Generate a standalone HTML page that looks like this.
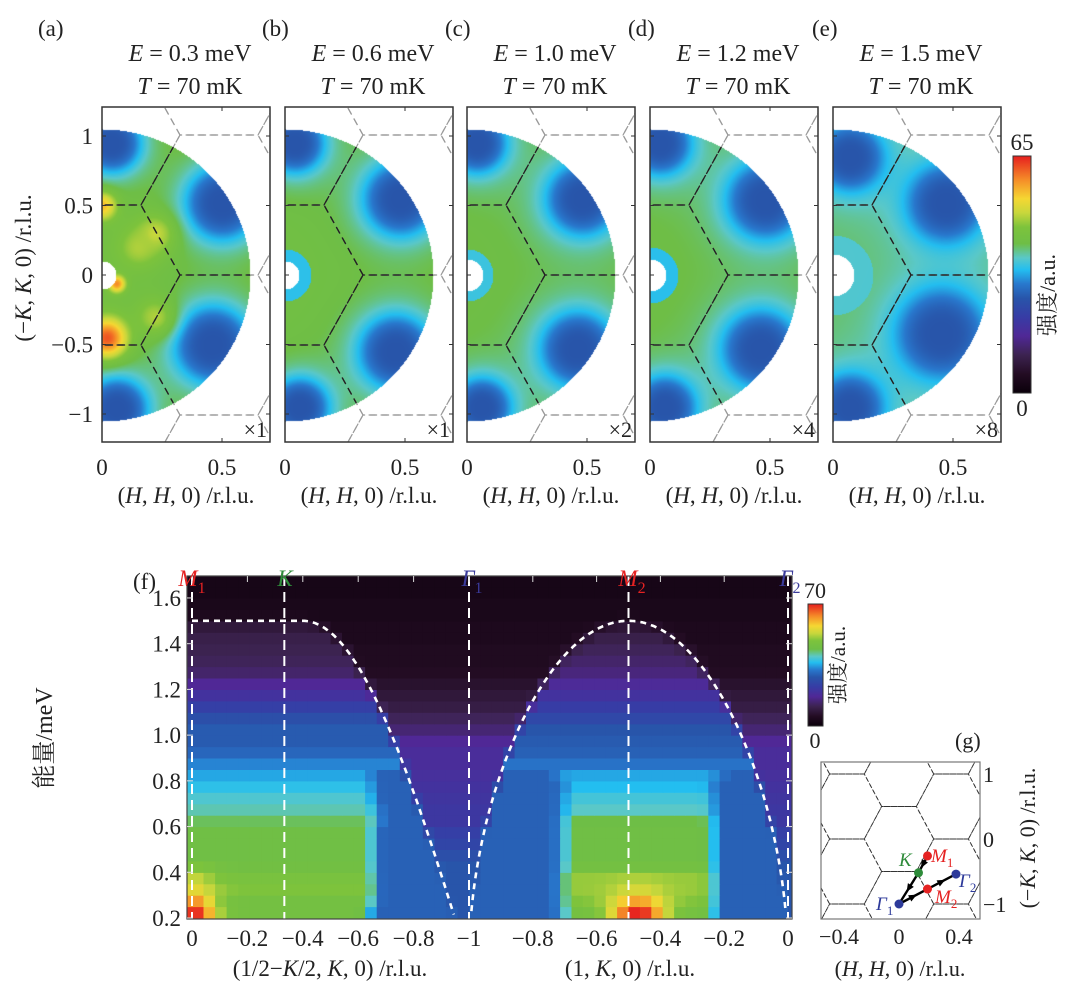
<!DOCTYPE html>
<html><head><meta charset="utf-8"><style>
html,body{margin:0;padding:0;background:#fff;}
#wrap{position:relative;width:1080px;height:991px;overflow:hidden;}
canvas,svg{position:absolute;left:0;top:0;}
text{font-family:"Liberation Serif","Noto Serif CJK SC",serif;fill:#222;}
</style></head><body>
<div id="wrap">
<canvas id="cv" width="1080" height="991"></canvas>
<svg id="sv" width="1080" height="991" xmlns="http://www.w3.org/2000/svg">
<defs>
<linearGradient id="cbar" x1="0" y1="1" x2="0" y2="0">
<stop offset="0" stop-color="#0a000a"/><stop offset="0.08" stop-color="#230c23"/><stop offset="0.16" stop-color="#3c2350"/><stop offset="0.24" stop-color="#502896"/><stop offset="0.32" stop-color="#373ca5"/><stop offset="0.4" stop-color="#2855aa"/><stop offset="0.46" stop-color="#2878cd"/><stop offset="0.52" stop-color="#23bef0"/><stop offset="0.57" stop-color="#5ac8c8"/><stop offset="0.63" stop-color="#6ebe46"/><stop offset="0.7" stop-color="#7dc33c"/><stop offset="0.76" stop-color="#c8d73c"/><stop offset="0.82" stop-color="#f5d732"/><stop offset="0.9" stop-color="#f58c28"/><stop offset="1" stop-color="#e61e1e"/>
</linearGradient>
</defs>
<g id="topg"></g>
<g id="fpanel"></g>
<g id="gpanel"></g>
</svg>
</div>
<script>
const cmStops=[[0,[10,0,10]],[0.08,[35,12,35]],[0.16,[60,35,80]],[0.24,[80,40,150]],[0.32,[55,60,165]],[0.4,[40,85,170]],[0.46,[40,120,205]],[0.52,[35,190,240]],[0.57,[90,200,200]],[0.63,[110,190,70]],[0.7,[125,195,60]],[0.76,[200,215,60]],[0.82,[245,215,50]],[0.9,[245,140,40]],[1,[230,30,30]]];
function cmap(v){v=Math.max(0,Math.min(1,v));for(let i=1;i<cmStops.length;i++){if(v<=cmStops[i][0]){const a=cmStops[i-1],b=cmStops[i];const t=(v-a[0])/(b[0]-a[0]);return [0,1,2].map(k=>Math.round(a[1][k]+(b[1][k]-a[1][k])*t));}}return cmStops[cmStops.length-1][1];}
const NS="http://www.w3.org/2000/svg";
function el(tag,attrs,parent){const e=document.createElementNS(NS,tag);for(const k in attrs)e.setAttribute(k,attrs[k]);parent.appendChild(e);return e;}

const panelLabels=["(a)","(b)","(c)","(d)","(e)"];
const panelEnergies=["0.3","0.6","1.0","1.2","1.5"];
const panelScales=["×1","×1","×2","×4","×8"];
const panelBase=[0.66,0.65,0.64,0.64,0.62];
const panelHole=[14,14,16,16,21];
const blobsA=[[0.5,0.52,38],[0.46,-0.5,40],[0.04,0.95,30],[0.06,-0.96,32]];
const blobsB=[[0.48,0.55,38],[0.46,-0.55,38],[0.04,0.95,30],[0.06,-0.95,30]];
const blobsC=[[0.48,0.55,37],[0.46,-0.53,38],[0.04,0.95,30],[0.06,-0.95,30]];
const blobsD=[[0.48,0.54,40],[0.46,-0.53,40],[0.04,0.95,32],[0.06,-0.95,32]];
const blobsE=[[0.47,0.52,40],[0.45,-0.42,46],[0.07,0.85,34],[0.07,-0.95,34]];
const hotA=[[0,0.5,0.85,10],[0.02,-0.45,0.95,14],[0.06,-0.06,0.9,6],[0.22,0.3,0.76,14],[0.22,-0.3,0.74,14],[0.15,0.2,0.74,14]];
const panelBlobs=[blobsA,blobsB,blobsC,blobsD,blobsE];
const panelHot=[hotA,[],[],[],[]];
const panelRing=[null,[14,26,0.5],[16,26,0.52],[16,28,0.5],[21,40,0.55]];

const lefts=[102,285,467,650,833];
const labelX=[38,262,445,628,812];
const PW=168,PT=107,PB=442,CY=275,XS=240,YS=139;
const cv=document.getElementById('cv');const ctx=cv.getContext('2d');
const imgData=ctx.createImageData(1080,991);
for(let p=0;p<5;p++){
  const L=lefts[p];const rx=p==4?155:148,ry=146;
  for(let py=PT;py<PB;py++)for(let px=L;px<L+PW;px++){
    const dx=px-L,dy=py-CY;
    if((dx/rx)**2+(dy/ry)**2>1)continue;
    const r=Math.hypot(dx,dy);if(r<panelHole[p])continue;
    let v=panelBase[p];
    const H=dx/XS,K=-dy/YS;
    for(const b of panelBlobs[p]){const d=Math.hypot((H-b[0])*XS,(K-b[1])*YS);const s=1/(1+Math.pow(d/b[2],4));v-=(v-0.40)*s;}
    for(const h of panelHot[p]){const d=Math.hypot((H-h[0])*XS,(K-h[1])*YS);const g=Math.exp(-d*d/(2*h[3]*h[3]));if(h[2]>v)v+=(h[2]-v)*g;}
    const rg=panelRing[p];if(rg&&r<rg[1]){v+=(rg[2]-v)*0.8;}
    const c=cmap(v);const i=(py*1080+px)*4;imgData.data[i]=c[0];imgData.data[i+1]=c[1];imgData.data[i+2]=c[2];imgData.data[i+3]=255;
  }
}
ctx.putImageData(imgData,0,0);

const topG=document.getElementById('topg');
const defsEl=document.querySelector('defs');
function honey(parent,cx,cy,a,h,x0,y0,x1,y1,stroke,dash,sw){
  for(let i=-4;i<=4;i++)for(let j=-6;j<=6;j++){
    const hx=cx+1.5*a*i,hy=cy+2*h*j+(Math.abs(i)%2?h:0);
    const v=[[hx+a,hy],[hx+a/2,hy-h],[hx-a/2,hy-h],[hx-a,hy],[hx-a/2,hy+h],[hx+a/2,hy+h]];
    if(hx<x0-2*a||hx>x1+2*a||hy<y0-2*h||hy>y1+2*h)continue;
    let d="M"+v.map(q=>q[0].toFixed(1)+","+q[1].toFixed(1)).join("L")+"Z";
    const e=el('path',{d:d,fill:'none',stroke:stroke,'stroke-dasharray':dash,'stroke-width':sw},parent);
    
    
  }
}
for(let p=0;p<5;p++){
  const L=lefts[p];const rx=p==4?155:148;
  const g=el('g',{},topG);
  
  
  const cp=el('clipPath',{id:'clip'+p},defsEl);el('rect',{x:L,y:PT,width:PW,height:PB-PT},cp);
  const cd=el('clipPath',{id:'disc'+p},defsEl);el('ellipse',{cx:L,cy:CY,rx:rx,ry:146},cd);
  const g1=el('g',{'clip-path':'url(#clip'+p+')'},g);
  honey(g1,L,CY,78,70,L,PT,L+PW,PB,'#999','7 5',1.2);
  const g2=el('g',{'clip-path':'url(#disc'+p+')'},g1);
  honey(g2,L,CY,78,70,L,PT,L+PW,PB,'#222','7 5',1.3);
  const fr=el('rect',{x:L,y:PT,width:PW,height:PB-PT,fill:'none',stroke:'#333','stroke-width':1.5},g);
  
  for(const k of [1,0.5,0,-0.5,-1]){const y=CY-k*YS;el('line',{x1:L,x2:L+4,y1:y,y2:y,stroke:'#333'},g);el('line',{x1:L+PW-4,x2:L+PW,y1:y,y2:y,stroke:'#333'},g);}
  el('line',{x1:L+120,x2:L+120,y1:PT,y2:PT+4,stroke:'#333'},g);el('line',{x1:L+120,x2:L+120,y1:PB-4,y2:PB,stroke:'#333'},g);
  let t=el('text',{x:labelX[p],y:36,'font-size':23},g);t.textContent=panelLabels[p];
  
  t=el('text',{x:L+88,y:61,'font-size':24,'text-anchor':'middle'},g);
  t.innerHTML='<tspan font-style="italic">E</tspan> = '+panelEnergies[p]+' meV';
  
  t=el('text',{x:L+88,y:94,'font-size':24,'text-anchor':'middle'},g);
  t.innerHTML='<tspan font-style="italic">T</tspan> = 70 mK';
  
  t=el('text',{x:L+PW-3,y:PB-5,'font-size':22,'text-anchor':'end'},g);t.textContent=panelScales[p];
  
  t=el('text',{x:L,y:475,'font-size':23,'text-anchor':'middle'},g);t.textContent='0';
  
  t=el('text',{x:L+120,y:475,'font-size':23,'text-anchor':'middle'},g);t.textContent='0.5';
  
  t=el('text',{x:L+84,y:503,'font-size':23,'text-anchor':'middle'},g);
  t.innerHTML='(<tspan font-style="italic">H</tspan>, <tspan font-style="italic">H</tspan>, 0) /r.l.u.';
  
}
const yTicksTop=["1","0.5","0","−0.5","−1"];const yTickValsTop=[1,0.5,0,-0.5,-1];
yTickValsTop.forEach((k,i)=>{const t=el('text',{x:93,y:CY-k*YS+8,'font-size':23,'text-anchor':'end'},topG);t.textContent=yTicksTop[i];
});
let yt=el('text',{x:0,y:0,'font-size':23,'text-anchor':'middle',transform:'translate(31,268) rotate(-90)'},topG);
yt.innerHTML='(−<tspan font-style="italic">K</tspan>, <tspan font-style="italic">K</tspan>, 0) /r.l.u.';

let cb=el('rect',{x:1013,y:156,width:18,height:237,fill:'url(#cbar)',stroke:'#333','stroke-width':1},topG);

let tt=el('text',{x:1022,y:150,'font-size':23,'text-anchor':'middle'},topG);tt.textContent='65';

tt=el('text',{x:1022,y:416,'font-size':23,'text-anchor':'middle'},topG);tt.textContent='0';

tt=el('text',{x:0,y:0,'font-size':22,'text-anchor':'middle',transform:'translate(1055,295) rotate(-90)'},topG);tt.textContent='强度/a.u.';


const energies=[0.225,0.275,0.325,0.375,0.425,0.475,0.525,0.575,0.625,0.675,0.725,0.775,0.825,0.875,0.925,0.975,1.025,1.075,1.125,1.175,1.225,1.275,1.325,1.375,1.425,1.475,1.525,1.575,1.625,1.675];
const plateauL=[0.66,0.66,0.70,0.68,0.65,0.64,0.64,0.64,0.62,0.58,0.56,0.53,0.50,0.47,0.43,0.41,0.41,0.38,0.33,0.28,0.24,0.19,0.17,0.16,0.15,0.14,0.11,0.09,0.07,0.05];
const widthL=[0.6,0.62,0.62,0.62,0.62,0.62,0.62,0.62,0.63,0.63,0.62,0.62,0.62,2,2,2,2,2,2,2,2,2,2,2,2,2,2,2,2,2];
const hotL=[1.0,0.9,0.8,0.76,0.7,0,0,0,0,0,0,0,0,0,0,0,0,0,0,0,0,0,0,0,0,0,0,0,0,0];
const plateauR=[0.66,0.70,0.72,0.72,0.66,0.64,0.64,0.64,0.63,0.57,0.55,0.52,0.50,0.45,0.42,0.41,0.40,0.36,0.32,0.28,0.25,0.21,0.19,0.17,0.15,0.13,0.10,0.08,0.07,0.05];
const widthR=[0.2,0.2,0.2,0.2,0.2,0.2,0.2,0.2,0.2,0.2,0.2,0.2,0.22,2,2,2,2,2,2,2,2,2,2,2,2,2,2,2,2,2];
const hotR=[1.0,0.88,0.78,0.74,0,0,0,0,0,0,0,0,0,0,0,0,0,0,0,0,0,0,0,0,0,0,0,0,0,0];
const insideBg=[0.42,0.42,0.42,0.42,0.42,0.42,0.42,0.42,0.42,0.42,0.42,0.42,0.42,0.42,0.42,0.41,0.40,0.38,0.33,0.28,0.24,0.19,0.17,0.16,0.15,0.14,0.11,0.09,0.07,0.05];
const outsideBg=[0.40,0.40,0.40,0.40,0.40,0.38,0.35,0.33,0.30,0.30,0.29,0.28,0.27,0.26,0.26,0.24,0.2,0.17,0.14,0.12,0.1,0.08,0.07,0.07,0.06,0.06,0.05,0.05,0.04,0.04];
const ticksLeft=[0,-0.2,-0.4,-0.6,-0.8,-1];const ticksLeftLbl=["0","−0.2","−0.4","−0.6","−0.8","−1"];
const ticksRight=[-0.8,-0.6,-0.4,-0.2,0];const ticksRightLbl=["−0.8","−0.6","−0.4","−0.2","0"];
const yTicksF=[0.2,0.4,0.6,0.8,1.0,1.2,1.4,1.6];const yTicksFLbl=["0.2","0.4","0.6","0.8","1.0","1.2","1.4","1.6"];
const fx0=187,fx1=792,fy0=576,fy1=919;
const xM1=192,xG1=469,xG2=788;
function xL(k){return xM1+(-k)*(xG1-xM1);}
function xR(k){return xG1+(k+1)*(xG2-xG1);}
function yE(e){return 918-(e-0.2)*228.6;}
function domeL(u){return u<0.4?1.5:1.5*Math.cos(Math.PI/2*(u-0.4)/0.6);}
function domeR(t){const s=Math.sin(Math.PI*Math.max(0,Math.min(1,t)));return 1.5*Math.sqrt(s);}
const fp=document.getElementById('fpanel');
const fc=el('clipPath',{id:'fclip'},defsEl);el('rect',{x:fx0,y:fy0,width:fx1-fx0,height:fy1-fy0},fc);
const cells=el('g',{'clip-path':'url(#fclip)'},fp);
function cellValue(r,dist,w,plat,hot,inDome){
  let v;
  if(dist<w)v=plat[r];else if(dist<w+0.07){const t=(dist-w)/0.07;v=plat[r]+(insideBg[r]-plat[r])*t;}else v=insideBg[r];
  if(hot[r]>0){const g=Math.exp(-dist*dist/(2*0.06*0.06));if(hot[r]>v)v+=(hot[r]-v)*g;}
  return v*inDome+outsideBg[r]*(1-inDome);
}
const NL=24,NR=28;
energies.forEach((E,r)=>{
  const yTop=yE(E+0.025),yBot=yE(E-0.025);
  for(let c=-1;c<NL;c++){
    const u0=c/NL,u1=(c+1)/NL,uc=(u0+u1)/2;
    const D=domeL(Math.abs(uc));const inD=Math.max(0,Math.min(1,(D-E)/0.08+0.5));
    const v=cellValue(r,Math.abs(uc),widthL[r],plateauL,hotL,inD);
    const col=cmap(v);
    const rc=el('rect',{x:xL(-u0).toFixed(1),y:yTop.toFixed(1),width:(xL(-u1)-xL(-u0)+0.6).toFixed(1),height:(yBot-yTop+0.6).toFixed(1),fill:'rgb('+col+')'},cells);
    
  }
  for(let c=0;c<NR+1;c++){
    const t0=c/NR,t1=(c+1)/NR,tc=(t0+t1)/2;
    const D=domeR(tc);const inD=Math.max(0,Math.min(1,(D-E)/0.08+0.5));
    const v=cellValue(r,Math.abs(tc-0.53),widthR[r],plateauR,hotR,inD);
    const col=cmap(v);
    const rc=el('rect',{x:xR(t0-1).toFixed(1),y:yTop.toFixed(1),width:(xR(t1-1)-xR(t0-1)+0.6).toFixed(1),height:(yBot-yTop+0.6).toFixed(1),fill:'rgb('+col+')'},cells);
    
  }
});
[xM1,xL(-1/3),xG1,xR(-0.5),xG2].forEach(x=>{const l=el('line',{x1:x,x2:x,y1:fy0,y2:fy1,stroke:'#fff','stroke-width':2,'stroke-dasharray':'10 6'},fp);
});
let pts=[];
for(let i=0;i<=200;i++){const u=i/200;const e=domeL(u);if(e<0.2)break;pts.push([xL(-u),yE(e)]);}
let dl=el('polyline',{points:pts.map(p=>p[0].toFixed(1)+','+p[1].toFixed(1)).join(' '),fill:'none',stroke:'#fff','stroke-width':2.6,'stroke-dasharray':'6 5'},fp);

pts=[];
for(let i=0;i<=400;i++){const t=i/400;const e=domeR(t);if(e<0.2)continue;pts.push([xR(t-1),yE(e)]);}
dl=el('polyline',{points:pts.map(p=>p[0].toFixed(1)+','+p[1].toFixed(1)).join(' '),fill:'none',stroke:'#fff','stroke-width':2.6,'stroke-dasharray':'6 5'},fp);

let ff=el('rect',{x:fx0,y:fy0,width:fx1-fx0,height:fy1-fy0,fill:'none',stroke:'#444','stroke-width':1.2},fp);

ticksLeft.forEach((k,i)=>{const x=xL(k);el('line',{x1:x,x2:x,y1:fy0,y2:fy0+6,stroke:'#ddd'},fp);
 const t=el('text',{x:x,y:946,'font-size':23,'text-anchor':'middle'},fp);t.textContent=ticksLeftLbl[i];
 });
ticksRight.forEach((k,i)=>{const x=xR(k);el('line',{x1:x,x2:x,y1:fy0,y2:fy0+6,stroke:'#ddd'},fp);
 const t=el('text',{x:x,y:946,'font-size':23,'text-anchor':'middle'},fp);t.textContent=ticksRightLbl[i];
 });
yTicksF.forEach((e,i)=>{const y=yE(e);el('line',{x1:fx0,x2:fx0+6,y1:y,y2:y,stroke:'#ddd'},fp);el('line',{x1:fx1-6,x2:fx1,y1:y,y2:y,stroke:'#ddd'},fp);
 const t=el('text',{x:181,y:y+8,'font-size':23,'text-anchor':'end'},fp);t.textContent=yTicksFLbl[i];
 });
function addText(parent,attrs,html,name){const t=el('text',attrs,parent);t.innerHTML=html;return t;}
addText(fp,{x:0,y:0,'font-size':24,'text-anchor':'middle',transform:'translate(52,738) rotate(-90)'},'能量/meV','y-axis-title');
addText(fp,{x:330,y:976,'font-size':23,'text-anchor':'middle'},'(1/2−<tspan font-style="italic">K</tspan>/2, <tspan font-style="italic">K</tspan>, 0) /r.l.u.','x-axis-title-left');
addText(fp,{x:630,y:976,'font-size':23,'text-anchor':'middle'},'(1, <tspan font-style="italic">K</tspan>, 0) /r.l.u.','x-axis-title-right');
addText(fp,{x:133,y:589,'font-size':23},'(f)','panel-label-f');
addText(fp,{x:192,y:586,'font-size':23,'text-anchor':'middle'},'<tspan fill="#e52222" font-style="italic">M</tspan><tspan fill="#e52222" font-size="16" dy="7">1</tspan>','label-m1');
addText(fp,{x:285,y:586,'font-size':23,'text-anchor':'middle'},'<tspan fill="#2e8b3a" font-style="italic">K</tspan>','label-k');
addText(fp,{x:472,y:586,'font-size':23,'text-anchor':'middle'},'<tspan fill="#3a3a9a" font-style="italic">Γ</tspan><tspan fill="#3a3a9a" font-size="16" dy="7">1</tspan>','label-gamma1');
addText(fp,{x:632,y:586,'font-size':23,'text-anchor':'middle'},'<tspan fill="#e52222" font-style="italic">M</tspan><tspan fill="#e52222" font-size="16" dy="7">2</tspan>','label-m2');
addText(fp,{x:790,y:586,'font-size':23,'text-anchor':'middle'},'<tspan fill="#3a3a9a" font-style="italic">Γ</tspan><tspan fill="#3a3a9a" font-size="16" dy="7">2</tspan>','label-gamma2');
cb=el('rect',{x:808,y:604,width:15,height:122,fill:'url(#cbar)',stroke:'#333','stroke-width':1},fp);

addText(fp,{x:815,y:598,'font-size':22,'text-anchor':'middle'},'70','colorbar-f-max');
addText(fp,{x:815,y:748,'font-size':22,'text-anchor':'middle'},'0','colorbar-f-min');
addText(fp,{x:0,y:0,'font-size':21,'text-anchor':'middle',transform:'translate(845,665) rotate(-90)'},'强度/a.u.','colorbar-f-title');

const gp=document.getElementById('gpanel');
const gx0=821,gx1=980,gy0=762,gy1=919,gcx=899,gcy=839,gHs=150,gKs=65;
function gx(h){return gcx+h*gHs;}function gy(k){return gcy-k*gKs;}
const gc=el('clipPath',{id:'gclip'},defsEl);el('rect',{x:gx0,y:gy0,width:gx1-gx0,height:gy1-gy0},gc);
const gg=el('g',{'clip-path':'url(#gclip)'},gp);
honey(gg,gcx,gcy,34.7,32.5,gx0,gy0,gx1,gy1,'#333','4 3',0.9);
let gf=el('rect',{x:gx0,y:gy0,width:gx1-gx0,height:gy1-gy0,fill:'none',stroke:'#777','stroke-width':1.2},gp);

const pathPtsH=[0.19,0.13,0,0.19,0.38];const pathPtsK=[-0.26,-0.52,-1,-0.77,-0.54];
const pathNames=["M1","K","Γ1","M2","Γ2"];const pathColors=["#e52222","#2e8b3a","#2d3a9a","#e52222","#2d3a9a"];
for(let i=0;i<4;i++){const l=el('line',{x1:gx(pathPtsH[i]),y1:gy(pathPtsK[i]),x2:gx(pathPtsH[i+1]),y2:gy(pathPtsK[i+1]),stroke:'#000','stroke-width':2.4},gp);
 
 const mx=(gx(pathPtsH[i])+gx(pathPtsH[i+1]))/2,my=(gy(pathPtsK[i])+gy(pathPtsK[i+1]))/2;
 const ang=Math.atan2(gy(pathPtsK[i+1])-gy(pathPtsK[i]),gx(pathPtsH[i+1])-gx(pathPtsH[i]))*180/Math.PI;
 const a=el('path',{d:'M4,0 L-4,-3.5 L-4,3.5Z',fill:'#000',transform:'translate('+mx+','+my+') rotate('+ang+')'},gp);
 }
pathPtsH.forEach((h,i)=>{const c=el('circle',{cx:gx(h),cy:gy(pathPtsK[i]),r:4.5,fill:pathColors[i]},gp);
 });
addText(gp,{x:931,y:862,'font-size':19},'<tspan fill="#e52222" font-style="italic">M</tspan><tspan fill="#e52222" font-size="13" dy="5">1</tspan>','g-label-m1');
addText(gp,{x:899,y:866,'font-size':19},'<tspan fill="#2e8b3a" font-style="italic">K</tspan>','g-label-k');
addText(gp,{x:959,y:887,'font-size':19},'<tspan fill="#2d3a9a" font-style="italic">Γ</tspan><tspan fill="#2d3a9a" font-size="13" dy="5">2</tspan>','g-label-gamma2');
addText(gp,{x:935,y:903,'font-size':19},'<tspan fill="#e52222" font-style="italic">M</tspan><tspan fill="#e52222" font-size="13" dy="5">2</tspan>','g-label-m2');
addText(gp,{x:876,y:910,'font-size':19},'<tspan fill="#2d3a9a" font-style="italic">Γ</tspan><tspan fill="#2d3a9a" font-size="13" dy="5">1</tspan>','g-label-gamma1');
const gXT=[-0.4,0,0.4],gXL=["−0.4","0","0.4"];
gXT.forEach((h,i)=>addText(gp,{x:gx(h),y:944,'font-size':22,'text-anchor':'middle'},gXL[i],'g-x-tick-label'));
const gYT=[1,0,-1],gYL=["1","0","−1"];
gYT.forEach((k,i)=>addText(gp,{x:983,y:gy(k)+8,'font-size':22},gYL[i],'g-y-tick-label'));
addText(gp,{x:900,y:976,'font-size':22,'text-anchor':'middle'},'(<tspan font-style="italic">H</tspan>, <tspan font-style="italic">H</tspan>, 0) /r.l.u.','g-x-axis-title');
addText(gp,{x:0,y:0,'font-size':22,'text-anchor':'middle',transform:'translate(1035,838) rotate(-90)'},'(−<tspan font-style="italic">K</tspan>, <tspan font-style="italic">K</tspan>, 0) /r.l.u.','g-y-axis-title');
addText(gp,{x:955,y:748,'font-size':22},'(g)','panel-label-g');
</script>
</body></html>
